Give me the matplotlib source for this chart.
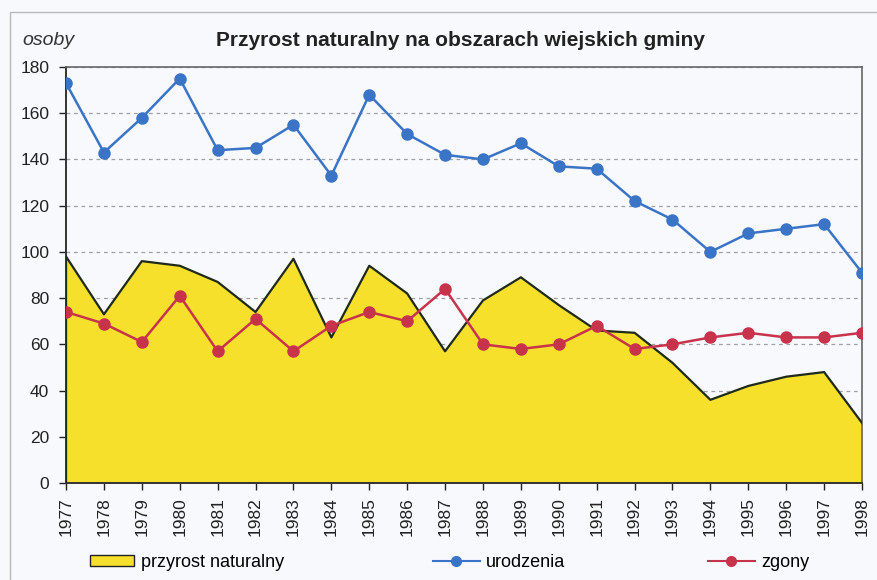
#!/usr/bin/env python3
# przyrost naturalny - wiejskie gminy, 1977-1998
import matplotlib
matplotlib.use("Agg")
import matplotlib.pyplot as plt
from matplotlib.patches import Rectangle
from matplotlib.lines import Line2D
import numpy as np

plt.rcParams['font.family'] = ['Liberation Sans', 'DejaVu Sans']

years = list(range(1977, 1999))
urodzenia = [173, 143, 158, 175, 144, 145, 155, 133, 168, 151, 142,
             140, 147, 137, 136, 122, 114, 100, 108, 110, 112, 91]
zgony = [74, 69, 61, 81, 57, 71, 57, 68, 74, 70, 84,
         60, 58, 60, 68, 58, 60, 63, 65, 63, 63, 65]
przyrost = [98, 73, 96, 94, 87, 74, 97, 63, 94, 82, 57,
            79, 89, 77, 66, 65, 52, 36, 42, 46, 48, 26]

yellow = '#f6e02c'
blue = '#3a74c6'
red = '#c8334c'
bg = '#f8f9fc'

fig = plt.figure(figsize=(8.78, 5.80), dpi=100)
fig.patch.set_facecolor(bg)
# outer chart frame
fig.add_artist(Rectangle((0.011, -0.01), 0.99, 0.99, transform=fig.transFigure,
                         fill=False, edgecolor='#b8b8b8', linewidth=1.0))

ax = fig.add_axes([0.0752, 0.1672, 0.9066, 0.7173])
ax.set_facecolor(bg)

x = np.array(years)
ax.fill_between(x, 0, przyrost, color=yellow, zorder=2, linewidth=0)
ax.plot(np.r_[x[0], x], np.r_[0, przyrost], color='#1f2a1a', lw=1.6, zorder=3)
ax.plot(x, urodzenia, color=blue, lw=1.8, marker='o', ms=8, zorder=4)
ax.plot(x, zgony, color=red, lw=1.8, marker='o', ms=8, zorder=4)

ax.set_xlim(1977, 1998)
ax.set_ylim(0, 180)
ax.set_yticks(range(0, 181, 20))
ax.set_xticks(years)
ax.set_xticklabels([str(y) for y in years], rotation=90)
ax.tick_params(axis='both', labelsize=12.5, colors='#222222', length=5,
               direction='out', width=1)
ax.tick_params(axis='x', pad=5)
ax.tick_params(axis='y', pad=7)
ax.yaxis.grid(True, linestyle=(0, (3, 3)), color='#a0a0a0', lw=0.9, zorder=1)
ax.set_axisbelow(True)
for s in ['left', 'bottom']:
    ax.spines[s].set_color('#333333')
    ax.spines[s].set_linewidth(1.4)
for s in ['top', 'right']:
    ax.spines[s].set_color('#666666')
    ax.spines[s].set_linewidth(1.2)

fig.text(0.025, 0.931, 'osoby', style='italic', fontsize=14, color='#333333',
         va='center')
fig.text(0.524, 0.931, 'Przyrost naturalny na obszarach wiejskich gminy',
         fontsize=15, fontweight='bold', ha='center', va='center',
         color='#222222')

# legend, three separate entries like the excel one
h1 = Rectangle((0, 0), 1, 1, facecolor=yellow, edgecolor='#222222', lw=1)
h2 = Line2D([], [], color=blue, marker='o', ms=7, lw=1.5)
h3 = Line2D([], [], color=red, marker='o', ms=7, lw=1.5)
for h, lab, xpos, hl in [(h1, 'przyrost naturalny', 0.1025, 2.45),
                         (h2, 'urodzenia', 0.493, 2.6),
                         (h3, 'zgony', 0.806, 2.6)]:
    fig.legend([h], [lab], loc='center left', bbox_to_anchor=(xpos, 0.03),
               frameon=False, fontsize=13, handlelength=hl, handletextpad=0.35,
               handleheight=0.6, borderpad=0, borderaxespad=0)

fig.savefig('out.png', dpi=100, facecolor=fig.get_facecolor())
